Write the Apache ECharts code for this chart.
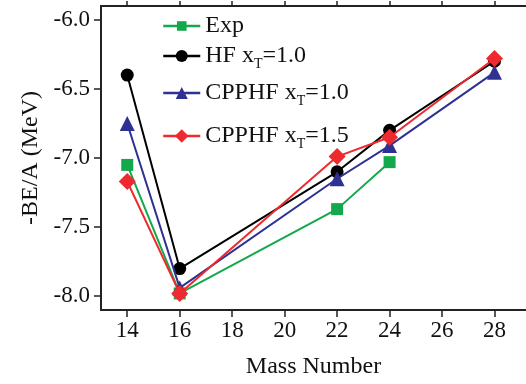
<!DOCTYPE html>
<html>
<head>
<meta charset="utf-8">
<script src="https://cdn.jsdelivr.net/npm/echarts@6/dist/echarts.min.js"></script>
<style>
html,body{margin:0;padding:0;background:#fff;}
#chart{width:526px;height:384px;}
</style>
</head>
<body>
<div id="chart"></div>
<script>
var xTicks = [14, 16, 18, 20, 22, 24, 26, 28];
var yTicks = [-8.0, -7.5, -7.0, -6.5, -6.0];

var expX = [14, 16, 22, 24];
var expY = [-7.05, -7.98, -7.37, -7.03];

var hfX = [14, 16, 22, 24, 28];
var hfY = [-6.40, -7.80, -7.10, -6.80, -6.30];

var cp10X = [14, 16, 22, 24, 28];
var cp10Y = [-6.75, -7.94, -7.15, -6.91, -6.38];

var cp15X = [14, 16, 22, 24, 28];
var cp15Y = [-7.17, -7.98, -6.99, -6.85, -6.28];

var names = ['Exp', 'HF x_T=1.0', 'CPPHF x_T=1.0', 'CPPHF x_T=1.5'];
var labels = ['Exp', 'HF x{s|T}=1.0', 'CPPHF x{s|T}=1.0', 'CPPHF x{s|T}=1.5'];
var colors = ['#13a84b', '#000000', '#2e3192', '#ec2a2f'];
var symbols = ['rect', 'circle', 'triangle', 'diamond'];
var sizes = [12, 13, 15, 17];
var legendSizes = [12, 15, 15, 17];

function pairs(xs, ys) { return xs.map(function (x, i) { return [x, ys[i]]; }); }
var dataSets = [pairs(expX, expY), pairs(hfX, hfY), pairs(cp10X, cp10Y), pairs(cp15X, cp15Y)];

var FONT = 'Liberation Serif';
var AX = '#222';

var legendTops = [9, 39, 76, 119];
var legends = names.map(function (n, i) {
  return {
    data: [n],
    left: 157,
    top: legendTops[i],
    itemWidth: 37,
    itemHeight: legendSizes[i],
    itemGap: 0,
    selectedMode: false,
    lineStyle: { width: 2.5 },
    formatter: function () { return labels[i]; },
    textStyle: {
      fontFamily: FONT, fontSize: 24, color: '#111',
      rich: { s: { fontFamily: FONT, fontSize: 14, color: '#111', padding: [16, 0, 0, 0], verticalAlign: 'bottom' } }
    }
  };
});

var series = names.map(function (n, i) {
  return {
    name: n,
    type: 'line',
    data: dataSets[i],
    symbol: symbols[i],
    symbolSize: sizes[i],
    showSymbol: true,
    lineStyle: { color: colors[i], width: 2 },
    itemStyle: { color: colors[i] },
    animation: false,
    z: 2 + i
  };
});

var chart = echarts.init(document.getElementById('chart'), null, { renderer: 'canvas' });
chart.setOption({
  backgroundColor: '#fff',
  animation: false,
  grid: { left: 101, top: 6, right: -8, bottom: 70, containLabel: false },
  legend: legends,
  xAxis: [{
    type: 'value', position: 'bottom', min: 13, max: 29.2,
    name: 'Mass Number', nameLocation: 'middle', nameGap: 45,
    nameTextStyle: { fontFamily: FONT, fontSize: 24, color: '#111' },
    axisLine: { show: true, lineStyle: { color: AX, width: 2 } },
    axisTick: { show: true, inside: false, length: 7, lineStyle: { color: AX, width: 1.5 }, customValues: xTicks },
    axisLabel: { fontFamily: FONT, fontSize: 23, color: '#111', margin: 9, customValues: xTicks },
    splitLine: { show: false }
  }, {
    type: 'value', position: 'top', min: 13, max: 29.2,
    axisLine: { show: true, lineStyle: { color: AX, width: 2 } },
    axisTick: { show: true, inside: false, length: 5, lineStyle: { color: AX, width: 1.5 }, customValues: xTicks },
    axisLabel: { show: false },
    splitLine: { show: false }
  }],
  yAxis: [{
    type: 'value', min: -8.1, max: -5.9,
    name: '-BE/A (MeV)', nameLocation: 'middle', nameGap: 57,
    nameTextStyle: { fontFamily: FONT, fontSize: 24, color: '#111' },
    axisLine: { show: true, lineStyle: { color: AX, width: 2 } },
    axisTick: { show: true, inside: false, length: 7, lineStyle: { color: AX, width: 1.5 }, customValues: yTicks },
    axisLabel: { fontFamily: FONT, fontSize: 23, color: '#111', margin: 11, customValues: yTicks,
      formatter: function (v) { return v.toFixed(1); } },
    splitLine: { show: false }
  }],
  series: series
});
</script>
</body>
</html>
